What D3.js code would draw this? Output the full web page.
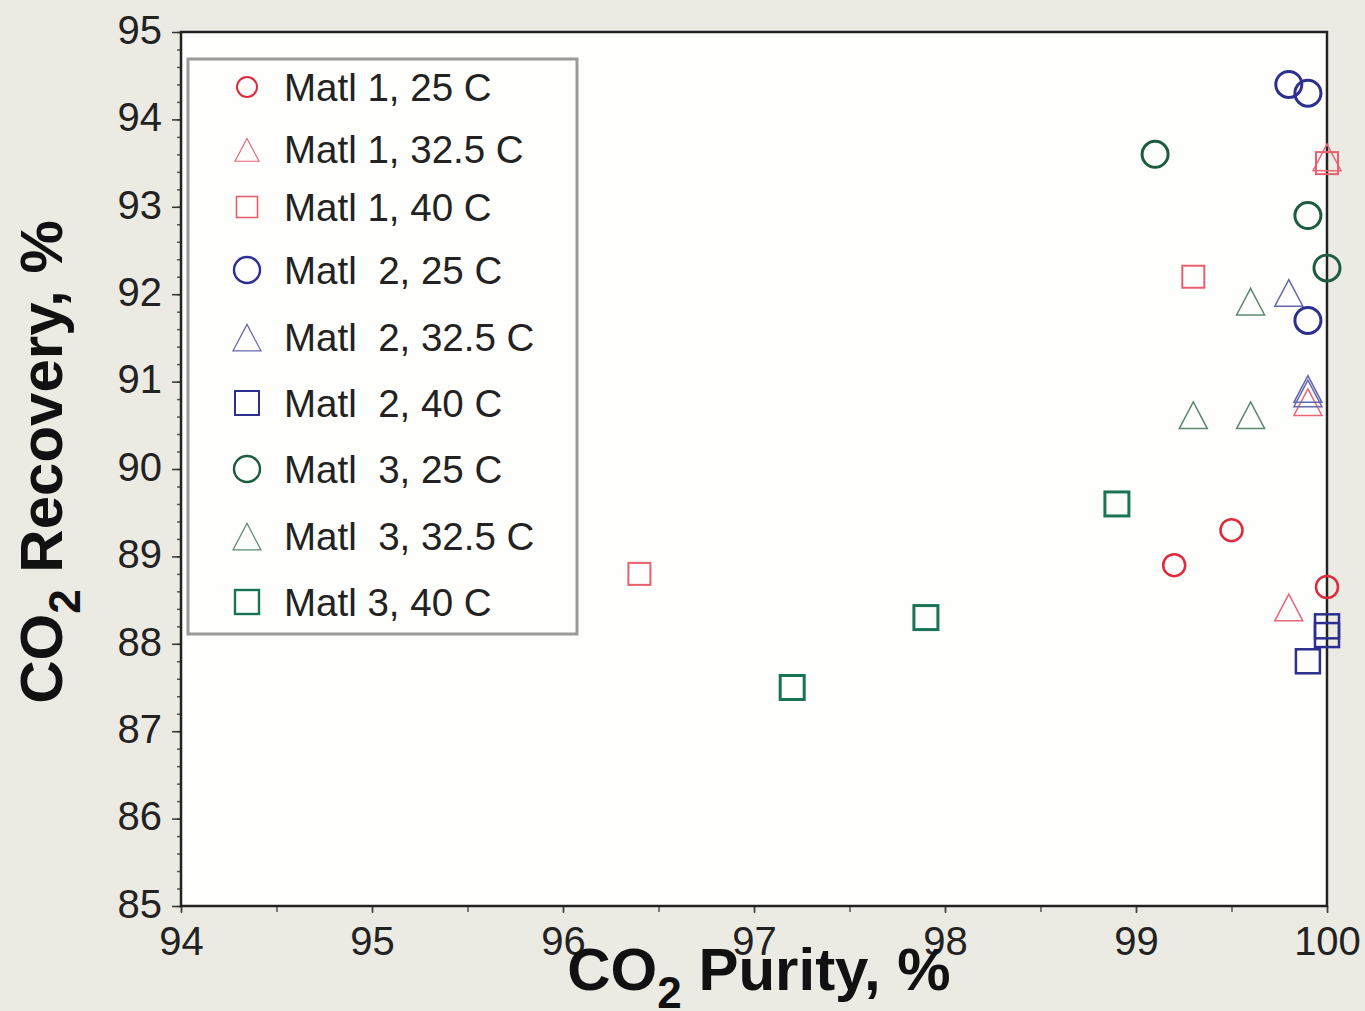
<!DOCTYPE html>
<html><head><meta charset="utf-8">
<script src="https://cdn.jsdelivr.net/npm/d3@7"></script>
<style>
html,body{margin:0;padding:0;background:#ecebe3;}
svg{display:block;}
text{font-family:"Liberation Sans",Arial,sans-serif;white-space:pre;}
</style></head><body>
<script>
// ---- data ----
const seriesNames = ["Matl 1, 25 C","Matl 1, 32.5 C","Matl 1, 40 C","Matl  2, 25 C","Matl  2, 32.5 C","Matl  2, 40 C","Matl  3, 25 C","Matl  3, 32.5 C","Matl 3, 40 C"];
const m1_25   = [[99.2,88.9],[99.5,89.3],[100,88.65]];
const m1_325  = [[99.8,88.4],[99.9,90.75],[100,93.55]];
const m1_40   = [[96.4,88.8],[99.3,92.2],[100,93.5]];
const m2_25   = [[99.8,94.4],[99.9,94.3],[99.9,91.7]];
const m2_325  = [[99.8,92.0],[99.9,90.9],[99.9,90.85]];
const m2_40   = [[99.9,87.8],[100,88.2],[100,88.1]];
const m3_25   = [[99.1,93.6],[99.9,92.9],[100,92.3]];
const m3_325  = [[99.6,91.9],[99.3,90.6],[99.6,90.6]];
const m3_40   = [[98.9,89.6],[97.9,88.3],[97.2,87.5]];
const xTicks = [94,95,96,97,98,99,100];
const yTicks = [85,86,87,88,89,90,91,92,93,94,95];

// ---- styles ----
const styles = [
  {shape:"circle",  color:"#e02a3c", size:11, sw:2.5, lsize:10},
  {shape:"triangle",color:"#e8677a", size:28, sw:1.5, lsize:24},
  {shape:"square",  color:"#e8606e", size:22, sw:2,   lsize:21},
  {shape:"circle",  color:"#2c2f8e", size:13, sw:3,   lsize:13},
  {shape:"triangle",color:"#6567ad", size:28, sw:1.5, lsize:28},
  {shape:"square",  color:"#2c2f8e", size:24, sw:2.5, lsize:24},
  {shape:"circle",  color:"#1d5c3e", size:13, sw:3,   lsize:13},
  {shape:"triangle",color:"#5c8a6e", size:28, sw:1.5, lsize:28},
  {shape:"square",  color:"#1a7452", size:24, sw:3,   lsize:24}
];
const data = [m1_25,m1_325,m1_40,m2_25,m2_325,m2_40,m3_25,m3_325,m3_40];

const W=1365,H=1011;
const svg=d3.select("body").append("svg").attr("width",W).attr("height",H);
const L=181,R=1327,T=32,B=906;
const x=d3.scaleLinear().domain([94,100]).range([L,R]);
const y=d3.scaleLinear().domain([85,95]).range([B,T]);

svg.append("rect").attr("x",L).attr("y",T).attr("width",R-L).attr("height",B-T).attr("fill","#fefefc");

function drawMarker(g,st,cx,cy,size,sw){
  if(st.shape==="circle"){
    g.append("circle").attr("cx",cx).attr("cy",cy).attr("r",size).attr("fill","none").attr("stroke",st.color).attr("stroke-width",sw);
  } else if(st.shape==="square"){
    g.append("rect").attr("x",cx-size/2).attr("y",cy-size/2).attr("width",size).attr("height",size).attr("fill","none").attr("stroke",st.color).attr("stroke-width",sw);
  } else {
    const h=size*0.95;
    const p=[[cx,cy-h*0.55],[cx+size/2,cy+h*0.45],[cx-size/2,cy+h*0.45]];
    g.append("path").attr("d","M"+p.map(q=>q.join(",")).join("L")+"Z").attr("fill","none").attr("stroke",st.color).attr("stroke-width",sw);
  }
}

// axes
const yAxis=d3.axisLeft(y).tickValues(d3.range(85,95.001,0.2)).tickFormat("").tickSize(4);
const gy=svg.append("g").attr("transform",`translate(${L},0)`).call(yAxis);
gy.selectAll(".tick line").attr("stroke","#555").attr("stroke-width",1.5);
gy.select(".domain").remove();
const yAxisMaj=d3.axisLeft(y).tickValues(yTicks).tickFormat(d3.format("d")).tickSize(9).tickPadding(10);
const gy2=svg.append("g").attr("transform",`translate(${L},0)`).call(yAxisMaj);
gy2.select(".domain").remove();
gy2.selectAll(".tick line").attr("stroke","#333").attr("stroke-width",1.5);
gy2.selectAll("text").attr("font-size",40).attr("fill","#222").attr("font-family","'Liberation Sans',Arial,sans-serif").attr("dy","0.28em");

const xAxisMin=d3.axisBottom(x).tickValues(d3.range(94,100.001,0.5)).tickFormat("").tickSize(6);
const gx=svg.append("g").attr("transform",`translate(0,${B})`).call(xAxisMin);
gx.select(".domain").remove();
gx.selectAll(".tick line").attr("stroke","#555").attr("stroke-width",1.5);
const xAxisMaj=d3.axisBottom(x).tickValues(xTicks).tickFormat(d3.format("d")).tickSize(7).tickPadding(14);
const gx2=svg.append("g").attr("transform",`translate(0,${B})`).call(xAxisMaj);
gx2.select(".domain").remove();
gx2.selectAll(".tick line").attr("stroke","#444").attr("stroke-width",1.5);
gx2.selectAll("text").attr("font-size",40).attr("fill","#222").attr("font-family","'Liberation Sans',Arial,sans-serif");

// frame
svg.append("rect").attr("x",L).attr("y",T).attr("width",R-L).attr("height",B-T).attr("fill","none").attr("stroke","#222").attr("stroke-width",2.5);

// legend
const lg=svg.append("g");
lg.append("rect").attr("x",188).attr("y",59).attr("width",389).attr("height",575).attr("fill","#fefefc").attr("stroke","#9a9a98").attr("stroke-width",3);
const legY=[87,149,207,270,337,403,469,536,602];
seriesNames.forEach((n,i)=>{
  const st=styles[i];
  drawMarker(lg,st,247,legY[i]+(st.shape==="triangle"?2:0),st.lsize,st.sw*0.8);
  lg.append("text").attr("x",284).attr("y",legY[i]+14).attr("font-size",38.5).attr("fill","#222").text(n);
});

// points
data.forEach((ser,i)=>{
  const g=svg.append("g");
  ser.forEach(d=>drawMarker(g,styles[i],x(d[0]),y(d[1]),styles[i].size,styles[i].sw));
});

// titles
const xt=svg.append("text").attr("x",759).attr("y",990).attr("text-anchor","middle").attr("font-size",60).attr("font-weight","bold").attr("fill","#111");
xt.append("tspan").text("CO");
xt.append("tspan").attr("font-size",44).attr("dy",18).text("2");
xt.append("tspan").attr("dy",-18).text(" Purity, %");

const yt=svg.append("text").attr("transform","translate(62,462) rotate(-90)").attr("text-anchor","middle").attr("font-size",60).attr("font-weight","bold").attr("fill","#111");
yt.append("tspan").text("CO");
yt.append("tspan").attr("font-size",44).attr("dy",18).text("2");
yt.append("tspan").attr("dy",-18).text(" Recovery, %");
</script>
</body></html>
